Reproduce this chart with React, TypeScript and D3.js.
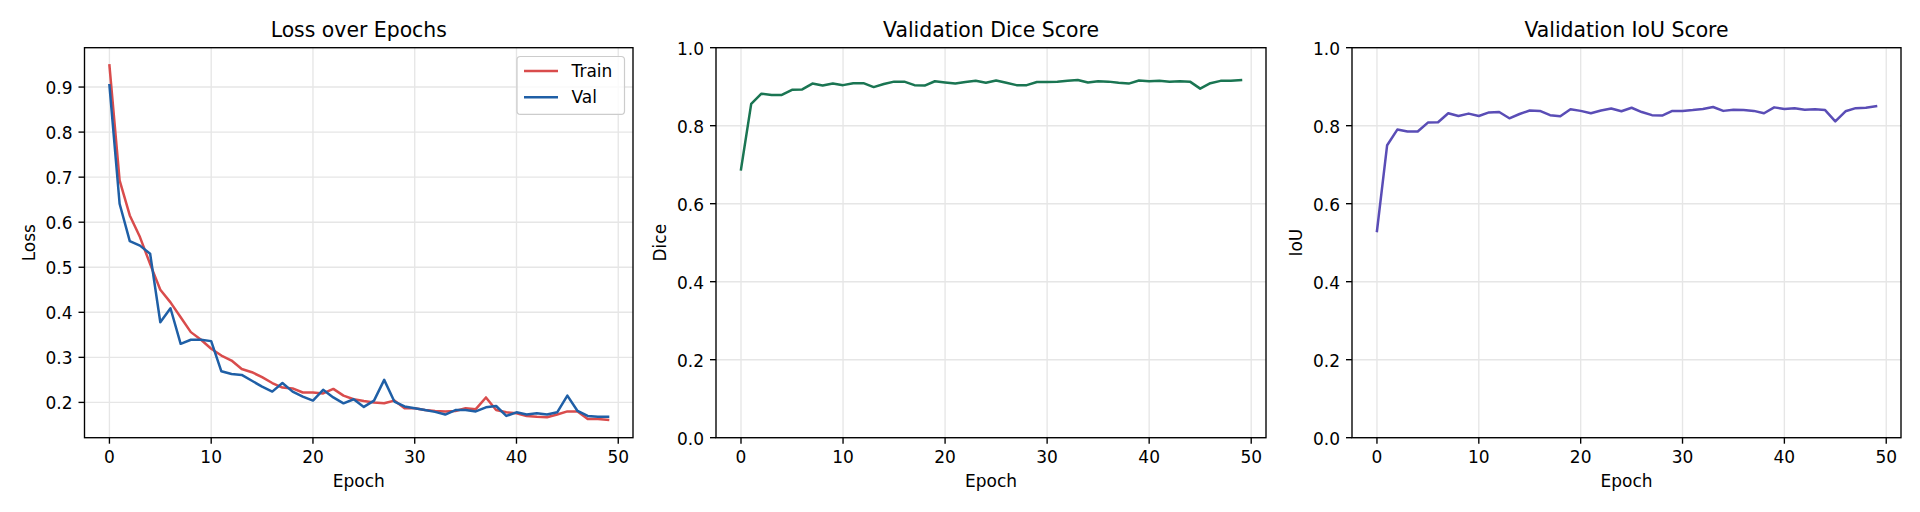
import React from "react";
import * as d3 from "d3";

const trainLoss = [
  0.948, 0.693, 0.615, 0.567, 0.507, 0.45, 0.422, 0.389, 0.356, 0.339,
  0.319, 0.304, 0.293, 0.274, 0.267, 0.256, 0.243, 0.233, 0.231, 0.222,
  0.222, 0.22, 0.23, 0.215, 0.207, 0.203, 0.2, 0.198, 0.204, 0.187,
  0.187, 0.183, 0.181, 0.18, 0.181, 0.187, 0.185, 0.211, 0.183, 0.178,
  0.176, 0.17, 0.168, 0.167, 0.173, 0.18, 0.18, 0.163, 0.163, 0.161,
];
const valLoss = [
  0.904, 0.641, 0.558, 0.548, 0.53, 0.378, 0.409, 0.33, 0.339, 0.339,
  0.336, 0.269, 0.263, 0.261, 0.248, 0.235, 0.224, 0.243, 0.224, 0.213,
  0.204, 0.228, 0.211, 0.198, 0.207, 0.19, 0.204, 0.25, 0.202, 0.191,
  0.187, 0.183, 0.179, 0.173, 0.183, 0.183, 0.18, 0.189, 0.192, 0.17,
  0.178, 0.173, 0.176, 0.173, 0.178, 0.215, 0.181, 0.17, 0.168, 0.168,
];
const valDice = [
  0.688, 0.856, 0.882, 0.879, 0.879, 0.892, 0.893, 0.908, 0.903, 0.908,
  0.904, 0.909, 0.909, 0.899, 0.907, 0.913, 0.913, 0.904, 0.903, 0.914,
  0.911, 0.908, 0.912, 0.915, 0.91, 0.916, 0.91, 0.904, 0.904, 0.912,
  0.912, 0.913, 0.915, 0.917, 0.911, 0.914, 0.913, 0.91, 0.908, 0.916,
  0.914, 0.915, 0.913, 0.914, 0.913, 0.895, 0.909, 0.915, 0.915, 0.917,
];
const valIoU = [
  0.53, 0.75, 0.79, 0.785, 0.785, 0.808, 0.809, 0.832, 0.825, 0.831,
  0.825, 0.834, 0.835, 0.819, 0.83, 0.839, 0.838, 0.827, 0.824, 0.842,
  0.838, 0.832, 0.839, 0.844, 0.837, 0.846, 0.835, 0.827, 0.826, 0.838,
  0.838, 0.84, 0.843, 0.848, 0.838, 0.841, 0.84, 0.838, 0.832, 0.847,
  0.843, 0.845, 0.841, 0.842, 0.84, 0.811, 0.837, 0.845, 0.846, 0.85,
];

const xTicks = [0, 10, 20, 30, 40, 50];
const lossTicks = [0.2, 0.3, 0.4, 0.5, 0.6, 0.7, 0.8, 0.9];
const scoreTicks = [0.0, 0.2, 0.4, 0.6, 0.8, 1.0];

const titles = ["Loss over Epochs", "Validation Dice Score", "Validation IoU Score"];
const yLabels = ["Loss", "Dice", "IoU"];
const legendLabels = ["Train", "Val"];

const COLORS = {
  train: "#d94c4c",
  val: "#1f5fa6",
  dice: "#1a7552",
  iou: "#5a4db6",
};

const FONT = "'DejaVu Sans', sans-serif";
const TOP = 47.7;
const BOTTOM = 437.7;
const PANELS = [
  { left: 84.5, right: 633 },
  { left: 716, right: 1266 },
  { left: 1352, right: 1901 },
];
const TICK = 6;
const PAD = 6;
const SPINE = 1.36;
const GRID = "#e6e6e6";

type Series = { values: number[]; color: string; label?: string };

function Panel({
  idx,
  series,
  yDomain,
  yTicks,
  legend,
}: {
  idx: number;
  series: Series[];
  yDomain: [number, number];
  yTicks: number[];
  legend?: boolean;
}) {
  const { left, right } = PANELS[idx];
  const n = series[0].values.length;
  const span = n - 1;
  const x = d3
    .scaleLinear()
    .domain([-0.05 * span, span + 0.05 * span])
    .range([left, right]);
  const y = d3.scaleLinear().domain(yDomain).range([BOTTOM, TOP]);
  const line = d3
    .line<number>()
    .x((_, i) => x(i))
    .y((v) => y(v));
  const fmt = d3.format(".1f");
  const cx = (left + right) / 2;

  return (
    <g>
      {/* grid */}
      {xTicks.map((t) => (
        <line key={"gx" + t} x1={x(t)} x2={x(t)} y1={TOP} y2={BOTTOM} stroke={GRID} strokeWidth={SPINE} />
      ))}
      {yTicks.map((t) => (
        <line key={"gy" + t} x1={left} x2={right} y1={y(t)} y2={y(t)} stroke={GRID} strokeWidth={SPINE} />
      ))}
      {/* lines */}
      <g clipPath={`url(#clip${idx})`}>
        {series.map((s, i) => (
          <path
            key={i}
            d={line(s.values) || ""}
            fill="none"
            stroke={s.color}
            strokeWidth={2.5}
            strokeLinejoin="round"
            strokeLinecap="square"
          />
        ))}
      </g>
      <clipPath id={`clip${idx}`}>
        <rect x={left} y={TOP} width={right - left} height={BOTTOM - TOP} />
      </clipPath>
      {/* spines */}
      <rect x={left} y={TOP} width={right - left} height={BOTTOM - TOP} fill="none" stroke="#000" strokeWidth={SPINE} />
      {/* x ticks */}
      {xTicks.map((t) => (
        <g key={"tx" + t}>
          <line x1={x(t)} x2={x(t)} y1={BOTTOM} y2={BOTTOM + TICK} stroke="#000" strokeWidth={SPINE} />
          <text x={x(t)} y={BOTTOM + TICK + PAD + 13.6} textAnchor="middle" fontSize={17} fontFamily={FONT} fill="#000">
            {t}
          </text>
        </g>
      ))}
      {/* y ticks */}
      {yTicks.map((t) => (
        <g key={"ty" + t}>
          <line x1={left - TICK} x2={left} y1={y(t)} y2={y(t)} stroke="#000" strokeWidth={SPINE} />
          <text x={left - TICK - PAD} y={y(t) + 6.8} textAnchor="end" fontSize={17} fontFamily={FONT} fill="#000">
            {fmt(t)}
          </text>
        </g>
      ))}
      {/* title */}
      <text x={cx} y={36.5} textAnchor="middle" fontSize={20.4} fontFamily={FONT} fill="#000">
        {titles[idx]}
      </text>
      {/* x label */}
      <text x={cx} y={486.5} textAnchor="middle" fontSize={17} fontFamily={FONT} fill="#000">
        Epoch
      </text>
      {/* y label */}
      <text
        transform={`translate(${left - 49.7},${(TOP + BOTTOM) / 2}) rotate(-90)`}
        textAnchor="middle"
        fontSize={17}
        fontFamily={FONT}
        fill="#000"
      >
        {yLabels[idx]}
      </text>
      {legend && (
        <g>
          <rect
            x={517}
            y={56.5}
            width={right - 8.5 - 517}
            height={57.8}
            rx={3.4}
            fill="#fff"
            fillOpacity={0.8}
            stroke="#cccccc"
            strokeWidth={1.2}
          />
          {series.map((s, i) => (
            <g key={"lg" + i}>
              <line x1={524} x2={558} y1={71 + i * 26.2} y2={71 + i * 26.2} stroke={s.color} strokeWidth={2.5} />
              <text x={571.5} y={77.3 + i * 25.5} fontSize={17} fontFamily={FONT} fill="#000">
                {s.label}
              </text>
            </g>
          ))}
        </g>
      )}
    </g>
  );
}

export default function App() {
  const all = trainLoss.concat(valLoss);
  const lo = d3.min(all) as number;
  const hi = d3.max(all) as number;
  const m = (hi - lo) * 0.05;
  return (
    <svg
      width={1920}
      height={512}
      viewBox="0 0 1920 512"
      style={{ position: "absolute", left: 0, top: 0, background: "#fff" }}
    >
      <rect x={0} y={0} width={1920} height={512} fill="#fff" />
      <Panel
        idx={0}
        series={[
          { values: trainLoss, color: COLORS.train, label: legendLabels[0] },
          { values: valLoss, color: COLORS.val, label: legendLabels[1] },
        ]}
        yDomain={[lo - m, hi + m]}
        yTicks={lossTicks}
        legend
      />
      <Panel idx={1} series={[{ values: valDice, color: COLORS.dice }]} yDomain={[0, 1]} yTicks={scoreTicks} />
      <Panel idx={2} series={[{ values: valIoU, color: COLORS.iou }]} yDomain={[0, 1]} yTicks={scoreTicks} />
    </svg>
  );
}
